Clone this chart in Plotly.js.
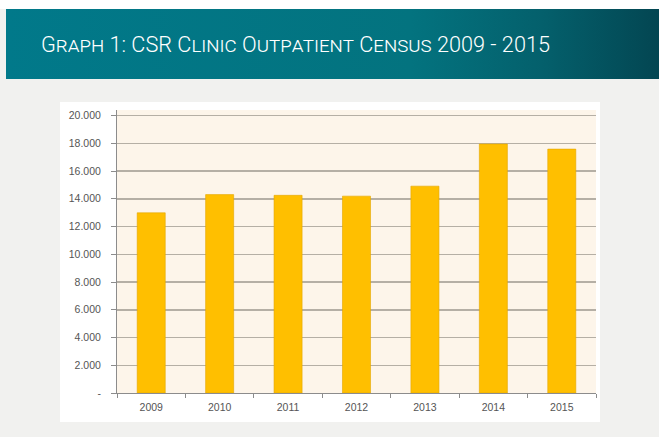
<!DOCTYPE html>
<html>
<head>
<meta charset="utf-8">
<script src="https://cdn.plot.ly/plotly-3.0.1.min.js"></script>
<style>
  html, body { margin: 0; padding: 0; width: 659px; height: 437px; overflow: hidden; background: #f1f1ef; }
  #top { position: absolute; left: 0; top: 0; width: 659px; height: 9px; background: #ffffff; }
  #banner { position: absolute; left: 6px; top: 9px; width: 653px; height: 70px;
            background: linear-gradient(to right, #01798a 0%, #03737f 62%, #04606c 82%, #034652 100%); }
  #box { position: absolute; left: 60px; top: 102px; width: 540px; height: 320px; background: #ffffff; }
  #chart { position: absolute; left: 0; top: 0; width: 659px; height: 437px; }
</style>
</head>
<body>
<div id="top"></div>
<div id="banner"></div>
<div id="box"></div>
<div id="chart"></div>
<script>
// Data
const years = ["2009", "2010", "2011", "2012", "2013", "2014", "2015"];
const outpatients = [12990, 14300, 14250, 14190, 14910, 17950, 17580];
const yTickVals = [0, 2000, 4000, 6000, 8000, 10000, 12000, 14000, 16000, 18000, 20000];
const yTickText = ["-", "2.000", "4.000", "6.000", "8.000", "10.000", "12.000", "14.000", "16.000", "18.000", "20.000"];
const chartTitle = "Graph 1: CSR Clinic Outpatient Census 2009 - 2015";

const trace = {
  type: "bar",
  x: years,
  y: outpatients,
  marker: { color: "#ffbf00", line: { color: "#e3a600", width: 0.6 } },
  width: 0.41,
  hoverinfo: "x+y"
};

const layout = {
  width: 659,
  height: 437,
  paper_bgcolor: "rgba(0,0,0,0)",
  plot_bgcolor: "#fdf5ea",
  margin: { l: 117, r: 63, t: 110, b: 44, pad: 0 },
  showlegend: false,
  separators: ",.",
  title: {
    text: chartTitle,
    font: { family: "Roboto, Liberation Sans, Arial, sans-serif", size: 21.7, weight: 300, color: "#ffffff", variant: "small-caps" },
    xref: "container", yref: "container",
    x: 41 / 659, xanchor: "left",
    y: 1 - 44 / 437, yanchor: "middle"
  },
  xaxis: {
    type: "category",
    showline: true, linecolor: "#8c8c8c", linewidth: 1,
    ticks: "outside", tickson: "boundaries", ticklen: 4, tickcolor: "#8c8c8c",
    showgrid: false,
    ticklabelstandoff: 4,
    tickfont: { family: "Liberation Sans, Arial, sans-serif", size: 10.5, color: "#555555" }
  },
  yaxis: {
    range: [0, 20400],
    tickmode: "array", tickvals: yTickVals, ticktext: yTickText,
    showline: true, linecolor: "#8c8c8c", linewidth: 1,
    ticks: "outside", ticklen: 5, tickcolor: "#8c8c8c",
    showgrid: true, gridcolor: "#b5afa5", gridwidth: 1.5,
    zeroline: false,
    ticklabelstandoff: 8,
    tickfont: { family: "Liberation Sans, Arial, sans-serif", size: 10.5, color: "#555555" }
  }
};

Plotly.newPlot("chart", [trace], layout, { displayModeBar: false, staticPlot: true });
</script>
</body>
</html>
